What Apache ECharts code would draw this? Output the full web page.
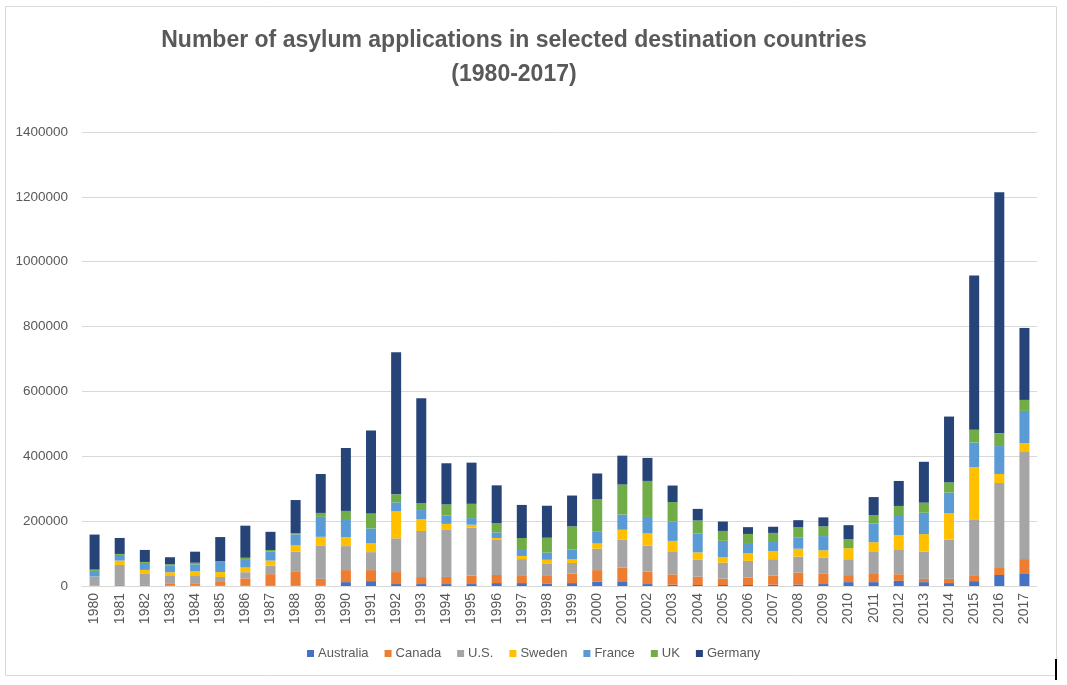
<!DOCTYPE html>
<html>
<head>
<meta charset="utf-8">
<script src="https://cdn.jsdelivr.net/npm/echarts@6/dist/echarts.min.js"></script>
<style>
html,body{margin:0;padding:0;background:#fff;}
#chart{width:1067px;height:685px;}
</style>
</head>
<body>
<div id="chart"></div>
<script>
var years = ['1980','1981','1982','1983','1984','1985','1986','1987','1988','1989','1990','1991','1992','1993','1994','1995','1996','1997','1998','1999','2000','2001','2002','2003','2004','2005','2006','2007','2008','2009','2010','2011','2012','2013','2014','2015','2016','2017'];
var australia = [500,300,300,500,500,500,500,500,500,500,12000,15000,6000,6000,6000,6000,9000,9000,8000,9000,13000,12400,6000,4000,3000,3000,3000,4000,4700,6000,12000,12000,15800,12000,9000,15000,34000,37000];
var canada = [1600,3000,3000,8000,8000,12000,23000,36000,45000,21600,37000,34000,37000,21600,22000,26000,25000,22000,23000,29000,36000,44000,39000,32000,25700,20000,23000,28000,36900,33000,21600,25000,20500,10000,13000,16000,21500,46000];
var us = [26500,61700,34000,24700,24700,15400,18900,26000,60000,101700,74000,55500,104000,142000,145000,148000,108000,52000,37000,33000,66000,86000,80000,71000,52000,48800,51500,50700,49000,49000,49000,68000,77000,84000,121000,172700,262000,330000];
var sweden = [500,13400,12300,9300,12000,15000,14600,16000,19600,27800,28000,27000,83000,37000,18500,9000,6000,9600,12800,11000,16000,31000,37000,32000,23000,17500,24300,25000,24400,22000,34000,30000,43900,54000,81000,163000,28000,28000];
var france = [17500,17500,21600,21600,21600,31000,26000,27600,34000,61700,55500,46000,28000,27600,26000,20400,17400,21400,22000,31000,38000,47000,51000,59800,58500,50000,30700,28000,35000,44000,0,58000,61700,66000,64000,75800,86000,99000];
var uk = [4000,3000,3000,3000,5000,3000,4000,5000,4000,12000,25000,46000,24600,22000,34000,44000,28000,34000,46000,71000,99000,92500,111000,60000,40000,30500,28000,28000,31000,30000,28000,25700,28000,31000,31500,39700,40000,33800];
var germany = [108000,49300,37000,21600,34000,74000,99000,56000,102000,120000,194000,256000,438000,323000,127000,127000,117000,102000,98700,95000,79000,89000,71000,51000,35600,29000,21000,19000,22000,27600,43000,55500,77000,126000,203000,475000,743000,222000];
var seriesNames = ['Australia','Canada','U.S.','Sweden','France','UK','Germany'];
var seriesData = [australia, canada, us, sweden, france, uk, germany];
var colors = ['#4472C4','#ED7D31','#A5A5A5','#FFC000','#5B9BD5','#70AD47','#264478'];

var chart = echarts.init(document.getElementById('chart'));
var font = '"Liberation Sans", Arial, sans-serif';
var series = seriesNames.map(function(n, i){
  return {
    name: n, type: 'bar', stack: 'total', data: seriesData[i],
    barWidth: 10,
    itemStyle: {color: colors[i]},
    emphasis: {disabled: true}
  };
});
chart.setOption({
  animation: false,
  color: colors,
  textStyle: {fontFamily: font},
  title: {
    text: 'Number of asylum applications in selected destination countries\n(1980-2017)',
    left: 509, top: 19, textAlign: 'center',
    textStyle: {fontFamily: font, fontWeight: 'bold', fontSize: 23, color: '#595959', lineHeight: 34}
  },
  legend: {
    left: 302, top: 642,
    itemWidth: 7, itemHeight: 7, itemGap: 16,
    icon: 'rect',
    textStyle: {fontSize: 13, color: '#595959', fontFamily: font, padding: [0,0,0,-1]},
    data: seriesNames
  },
  grid: {left: 82, right: 30, top: 132, bottom: 99, containLabel: false},
  xAxis: {
    type: 'category', data: years,
    axisLine: {lineStyle: {color: '#d9d9d9'}},
    axisTick: {show: false},
    axisLabel: {rotate: 90, color: '#595959', fontSize: 14, margin: 7, interval: 0}
  },
  yAxis: {
    type: 'value', min: 0, max: 1400000, interval: 200000,
    axisLine: {show: false}, axisTick: {show: false},
    splitLine: {lineStyle: {color: '#d9d9d9'}},
    axisLabel: {color: '#595959', fontSize: 13.5, margin: 14, formatter: function(v){ return String(v); }}
  },
  graphic: [
    {type: 'rect', shape: {x: 5.5, y: 6.5, width: 1051, height: 669}, style: {fill: 'none', stroke: '#d9d9d9', lineWidth: 1}, silent: true},
    {type: 'rect', shape: {x: 1055, y: 659, width: 2, height: 21}, style: {fill: '#000'}, silent: true}
  ],
  series: series
});
</script>
</body>
</html>
